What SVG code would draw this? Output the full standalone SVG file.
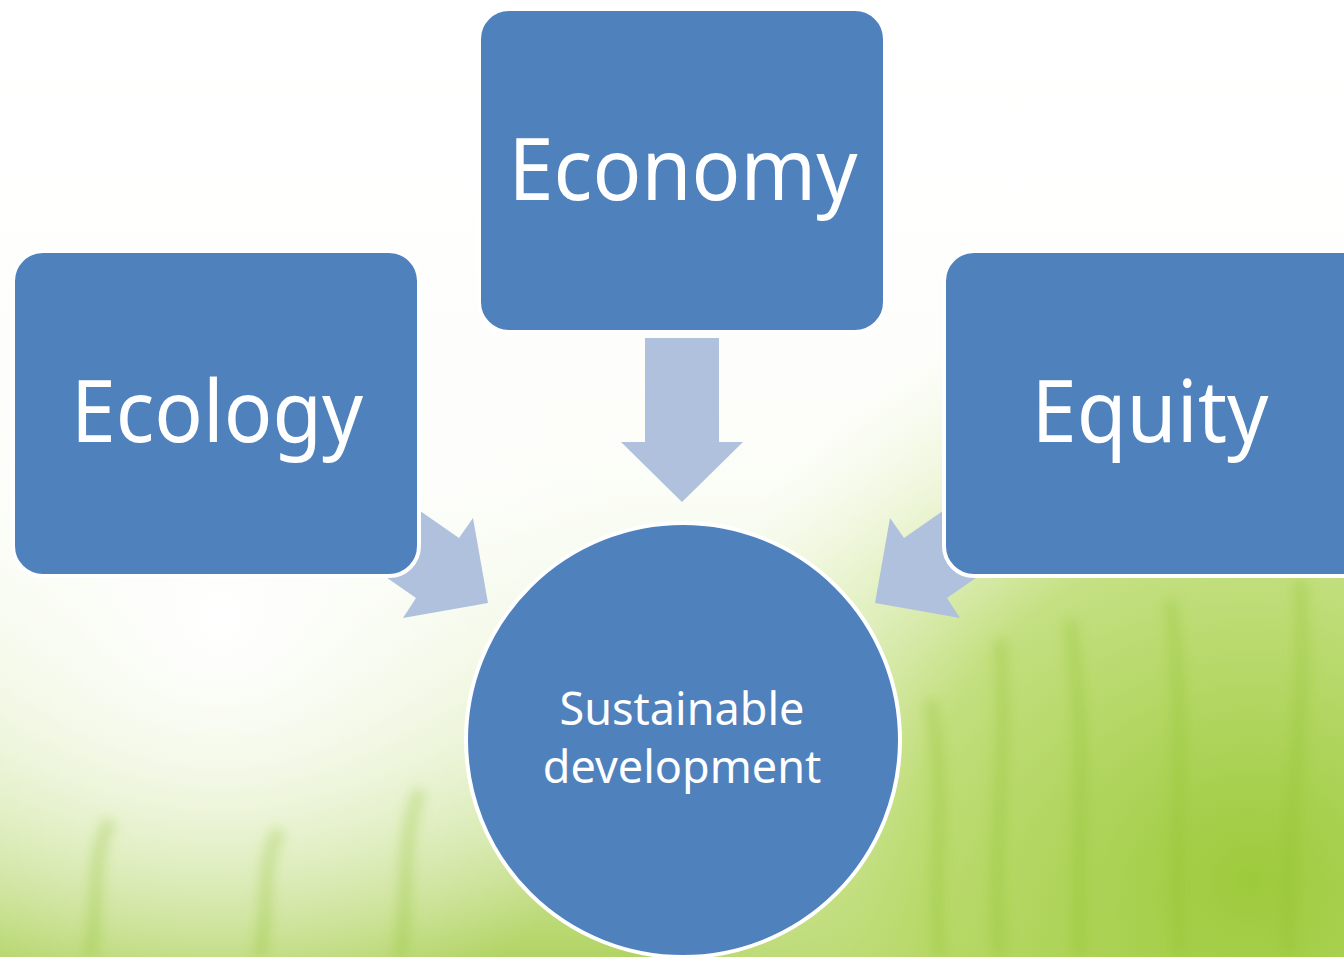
<svg xmlns="http://www.w3.org/2000/svg" width="1344" height="957" viewBox="0 0 1344 957">
<style>
.box{fill:#4F81BD;stroke:#FFFFFF;stroke-width:4}
.arrow{fill:#B0C1DD}
.big{font-family:"Noto Sans","Open Sans",sans-serif;fill:#FFFFFF;text-anchor:middle}
</style>
<defs>
<linearGradient id="vert" x1="0" y1="0" x2="0" y2="1">
<stop offset="0" stop-color="#ffffff" stop-opacity="0"/>
<stop offset="0.5" stop-color="#eef6da" stop-opacity="0.2"/>
<stop offset="0.8" stop-color="#c6e08c" stop-opacity="0.6"/>
<stop offset="1" stop-color="#a9cf52" stop-opacity="0.9"/>
</linearGradient>
<radialGradient id="rg" cx="1250" cy="880" r="620" gradientUnits="userSpaceOnUse">
<stop offset="0" stop-color="#9dca3c" stop-opacity="1"/>
<stop offset="0.55" stop-color="#b9da6a" stop-opacity="0.8"/>
<stop offset="1" stop-color="#e6f2c4" stop-opacity="0"/>
</radialGradient>
<radialGradient id="wl" cx="220" cy="620" r="440" gradientUnits="userSpaceOnUse">
<stop offset="0" stop-color="#ffffff" stop-opacity="1"/>
<stop offset="1" stop-color="#ffffff" stop-opacity="0"/>
</radialGradient>
<filter id="blur" x="-50%" y="-10%" width="200%" height="120%"><feGaussianBlur stdDeviation="6"/></filter>
</defs>
<g id="background">
<rect x="0" y="0" width="1344" height="957" fill="#ffffff"/>
<rect x="0" y="0" width="1344" height="957" fill="url(#vert)"/>
<rect x="0" y="0" width="1344" height="957" fill="url(#rg)"/>
<rect x="0" y="0" width="1344" height="957" fill="url(#wl)"/>
<g stroke="#8fbf30" stroke-opacity="0.3" fill="none" stroke-width="14" filter="url(#blur)">
<path d="M1000 957 C990 850 1010 750 1000 640"/>
<path d="M1080 957 C1075 860 1090 760 1070 620"/>
<path d="M1180 957 C1170 860 1190 740 1170 600"/>
<path d="M1290 957 C1280 850 1310 720 1300 580"/>
<path d="M940 957 C930 880 950 800 930 700"/>
<path d="M90 957 C100 900 90 860 110 820"/>
<path d="M260 957 C270 900 260 860 280 830"/>
<path d="M400 957 C410 890 400 840 420 790"/>
</g>
</g>
<g id="connectors">
<polygon class="arrow" points="645,338 719,338 719,442 743,442 682,502 621,442 645,442"/>
<polygon class="arrow" points="400,497 459,538 473,518 488,603 403,618 416,598 357,557"/>
<polygon class="arrow" points="963,497 904,538 890,518 875,603 960,618 947,598 1006,557"/>
</g>
<g id="economy">
<rect class="box" x="479" y="9" width="406" height="323" rx="30" ry="30"/>
<text class="big" x="683" y="200" font-size="86" textLength="349" lengthAdjust="spacingAndGlyphs">Economy</text>
</g>
<g id="ecology">
<rect class="box" x="13" y="251" width="406" height="325" rx="30" ry="30"/>
<text class="big" x="217" y="442" font-size="86" textLength="292" lengthAdjust="spacingAndGlyphs">Ecology</text>
</g>
<g id="equity">
<rect class="box" x="944" y="251" width="430" height="325" rx="30" ry="30"/>
<text class="big" x="1150" y="442" font-size="86" textLength="237" lengthAdjust="spacingAndGlyphs">Equity</text>
</g>
<g id="sustainable">
<circle class="box" cx="683" cy="740" r="217"/>
<text class="big" font-size="45"><tspan x="682" y="725">Sustainable</tspan><tspan x="682" y="783">development</tspan></text>
</g>
</svg>
